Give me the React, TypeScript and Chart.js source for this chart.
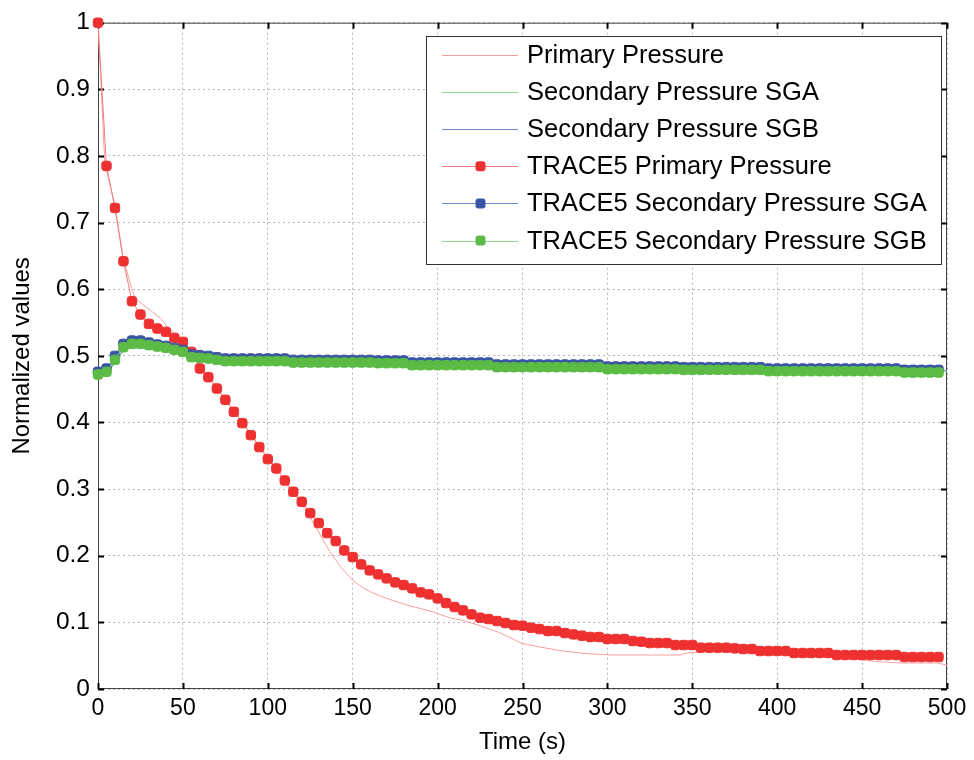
import React, { useEffect, useRef } from "react";
import { Chart, registerables } from "chart.js";

Chart.register(...registerables);

// ---------- data ----------
const xTicks = [0, 50, 100, 150, 200, 250, 300, 350, 400, 450, 500];
const yTickLabels = ["0", "0.1", "0.2", "0.3", "0.4", "0.5", "0.6", "0.7", "0.8", "0.9", "1"];

const legendLabels = [
  "Primary Pressure",
  "Secondary Pressure SGA",
  "Secondary Pressure SGB",
  "TRACE5 Primary Pressure",
  "TRACE5 Secondary Pressure SGA",
  "TRACE5 Secondary Pressure SGB",
];

// reference curves (thin lines)
const primaryTime = [0, 4, 10, 15, 20, 22, 30, 37, 41, 50, 55, 60, 70, 80, 90, 100, 107, 113, 119, 127, 136, 143, 150, 156, 162, 170, 182, 197, 207, 215, 225, 235, 242, 249, 260, 274, 288, 303, 320, 343, 346, 358, 380, 400, 431, 445, 459, 474, 494, 500];
const primaryValues = [1.0, 0.79, 0.725, 0.645, 0.6, 0.586, 0.57, 0.556, 0.543, 0.523, 0.508, 0.485, 0.452, 0.418, 0.383, 0.347, 0.324, 0.3, 0.281, 0.249, 0.208, 0.183, 0.163, 0.152, 0.144, 0.136, 0.126, 0.116, 0.107, 0.103, 0.095, 0.086, 0.078, 0.069, 0.063, 0.057, 0.053, 0.051, 0.051, 0.051, 0.054, 0.056, 0.055, 0.054, 0.048, 0.045, 0.041, 0.039, 0.039, 0.036];

const secondaryTime = [0, 5, 10, 15, 20, 30, 40, 50, 60, 80, 120, 160, 200, 250, 300, 350, 400, 450, 500];
const secondarySGA = [0.47, 0.474, 0.488, 0.508, 0.516, 0.516, 0.511, 0.505, 0.497, 0.493, 0.491, 0.489, 0.487, 0.484, 0.482, 0.48, 0.478, 0.477, 0.476];
const secondarySGB = [0.472, 0.476, 0.49, 0.51, 0.519, 0.518, 0.514, 0.508, 0.5, 0.496, 0.494, 0.492, 0.49, 0.487, 0.485, 0.483, 0.481, 0.48, 0.478];

// TRACE5 results (markers)
const traceTime = [
  0, 5, 10, 15, 20, 25, 30, 35, 40, 45, 50, 55, 60, 65, 70, 75, 80, 85, 90, 95,
  100, 105, 110, 115, 120, 125, 130, 135, 140, 145, 150, 155, 160, 165, 170, 175, 180, 185, 190, 195,
  200, 205, 210, 215, 220, 225, 230, 235, 240, 245, 250, 255, 260, 265, 270, 275, 280, 285, 290, 295,
  300, 305, 310, 315, 320, 325, 330, 335, 340, 345, 350, 355, 360, 365, 370, 375, 380, 385, 390, 395,
  400, 405, 410, 415, 420, 425, 430, 435, 440, 445, 450, 455, 460, 465, 470, 475, 480, 485, 490, 495,
];
const tracePrimary = [
  1.0, 0.785, 0.722, 0.642, 0.582, 0.562, 0.548, 0.541, 0.536, 0.527, 0.521, 0.506, 0.481, 0.468, 0.451, 0.434, 0.416, 0.399, 0.381, 0.363,
  0.345, 0.331, 0.313, 0.296, 0.281, 0.264, 0.249, 0.234, 0.222, 0.208, 0.198, 0.187, 0.178, 0.172, 0.166, 0.16, 0.156, 0.151, 0.145, 0.142,
  0.136, 0.129, 0.123, 0.118, 0.112, 0.107, 0.105, 0.102, 0.099, 0.096, 0.095, 0.092, 0.09, 0.087, 0.087, 0.084, 0.082, 0.08, 0.078, 0.078,
  0.075, 0.075, 0.075, 0.072, 0.071, 0.069, 0.069, 0.069, 0.066, 0.066, 0.066, 0.062, 0.062, 0.062, 0.062, 0.061, 0.06, 0.06, 0.057, 0.057,
  0.057, 0.057, 0.054, 0.054, 0.054, 0.054, 0.054, 0.051, 0.051, 0.051, 0.051, 0.051, 0.051, 0.051, 0.051, 0.048, 0.048, 0.048, 0.048, 0.048,
];
const traceSGA = [
  0.476, 0.481, 0.5, 0.518, 0.523, 0.523, 0.52, 0.517, 0.515, 0.512, 0.509, 0.502, 0.501, 0.5, 0.498, 0.496, 0.496, 0.496, 0.496, 0.496,
  0.496, 0.496, 0.496, 0.494, 0.494, 0.494, 0.494, 0.494, 0.494, 0.494, 0.494, 0.494, 0.494, 0.493, 0.493, 0.493, 0.493, 0.49, 0.49, 0.49,
  0.49, 0.49, 0.49, 0.49, 0.49, 0.49, 0.49, 0.487, 0.487, 0.487, 0.487, 0.487, 0.487, 0.487, 0.487, 0.487, 0.487, 0.487, 0.487, 0.487,
  0.484, 0.484, 0.484, 0.484, 0.484, 0.484, 0.484, 0.484, 0.484, 0.483, 0.483, 0.483, 0.483, 0.483, 0.483, 0.483, 0.483, 0.483, 0.483, 0.481,
  0.481, 0.481, 0.481, 0.481, 0.481, 0.481, 0.481, 0.481, 0.481, 0.481, 0.481, 0.481, 0.481, 0.481, 0.481, 0.479, 0.479, 0.479, 0.479, 0.479,
];
const traceSGB = [
  0.472, 0.476, 0.494, 0.513, 0.518, 0.518, 0.516, 0.514, 0.512, 0.509, 0.506, 0.498, 0.497, 0.496, 0.494, 0.492, 0.492, 0.492, 0.492, 0.492,
  0.492, 0.492, 0.492, 0.49, 0.49, 0.49, 0.49, 0.49, 0.49, 0.49, 0.49, 0.49, 0.49, 0.489, 0.489, 0.489, 0.489, 0.486, 0.486, 0.486,
  0.486, 0.486, 0.486, 0.486, 0.486, 0.486, 0.486, 0.483, 0.483, 0.483, 0.483, 0.483, 0.483, 0.483, 0.483, 0.483, 0.483, 0.483, 0.483, 0.483,
  0.48, 0.48, 0.48, 0.48, 0.48, 0.48, 0.48, 0.48, 0.48, 0.479, 0.479, 0.479, 0.479, 0.479, 0.479, 0.479, 0.479, 0.479, 0.479, 0.477,
  0.477, 0.477, 0.477, 0.477, 0.477, 0.477, 0.477, 0.477, 0.477, 0.477, 0.477, 0.477, 0.477, 0.477, 0.477, 0.475, 0.475, 0.475, 0.475, 0.475,
];

// ---------- styles ----------
const FONT = '"Liberation Sans", Arial, Helvetica, sans-serif';
const lineColors = ["#f5a0a0", "#8fd88f", "#7387cc", "#f27b7b", "#6f86c9", "#8ed68e"];
const markerColors = [null, null, null, "#ee3030", "#3a55a5", "#5cbb45"];

const toXY = (xs: number[], ys: number[]) => xs.map((x, i) => ({ x, y: ys[i] }));

const boxPlugin = {
  id: "matlabBox",
  beforeDatasetsDraw(chart: any) {
    const { ctx, chartArea: a, scales } = chart;
    ctx.save();
    // box
    ctx.strokeStyle = "#444";
    ctx.lineWidth = 1;
    ctx.strokeRect(a.left + 0.5, a.top + 0.5, a.right - a.left - 1, a.bottom - a.top - 1);
    // inward ticks
    ctx.strokeStyle = "#000";
    ctx.lineWidth = 2;
    const tl = 6;
    scales.y.ticks.forEach((t: any) => {
      const y = Math.round(scales.y.getPixelForValue(t.value)) + 0.5;
      ctx.beginPath();
      ctx.moveTo(a.left, y);
      ctx.lineTo(a.left + tl, y);
      ctx.moveTo(a.right, y);
      ctx.lineTo(a.right - tl, y);
      ctx.stroke();
    });
    scales.x.ticks.forEach((t: any) => {
      const x = Math.round(scales.x.getPixelForValue(t.value)) + 0.5;
      ctx.beginPath();
      ctx.moveTo(x, a.top);
      ctx.lineTo(x, a.top + tl);
      ctx.moveTo(x, a.bottom);
      ctx.lineTo(x, a.bottom - tl);
      ctx.stroke();
    });
    ctx.restore();
  },
  afterDraw(chart: any) {
    const { ctx } = chart;
    ctx.save();
    // legend
    const lx = 426, ly = 36, lw = 515, lh = 228;
    ctx.fillStyle = "#fff";
    ctx.fillRect(lx, ly, lw, lh);
    ctx.strokeStyle = "#333";
    ctx.lineWidth = 1;
    ctx.strokeRect(lx + 0.5, ly + 0.5, lw, lh);
    const rowY0 = 55, rowH = 37.1;
    ctx.font = `25.5px ${FONT}`;
    ctx.textBaseline = "middle";
    ctx.textAlign = "left";
    legendLabels.forEach((label, i) => {
      const y = rowY0 + i * rowH;
      ctx.strokeStyle = lineColors[i];
      ctx.lineWidth = 1;
      ctx.beginPath();
      ctx.moveTo(442, Math.round(y) + 0.5);
      ctx.lineTo(518, Math.round(y) + 0.5);
      ctx.stroke();
      const mc = markerColors[i];
      if (mc) {
        ctx.fillStyle = mc;
        ctx.beginPath();
        (ctx as any).roundRect(475.5, y - 5, 10, 10, 3);
        ctx.fill();
      }
      ctx.fillStyle = "#000";
      ctx.fillText(label, 527, y + 1);
    });
    ctx.restore();
  },
};

export default function App() {
  const ref = useRef<HTMLCanvasElement | null>(null);

  useEffect(() => {
    if (!ref.current) return;
    const traceDs = (i: number, ys: number[], order: number) => ({
      label: legendLabels[i],
      data: toXY(traceTime, ys),
      borderColor: lineColors[i],
      borderWidth: 1,
      pointStyle: "rectRounded",
      pointRadius: 5.5,
      pointBackgroundColor: markerColors[i],
      pointBorderColor: markerColors[i],
      pointBorderWidth: 1,
      tension: 0,
      clip: false,
      order,
    });
    const chart = new Chart(ref.current, {
      type: "line",
      data: {
        datasets: [
          {
            label: legendLabels[0],
            data: toXY(primaryTime, primaryValues),
            borderColor: lineColors[0],
            borderWidth: 1,
            pointRadius: 0,
            tension: 0,
            order: 6,
          },
          {
            label: legendLabels[1],
            data: toXY(secondaryTime, secondarySGA),
            borderColor: lineColors[1],
            borderWidth: 1,
            pointRadius: 0,
            tension: 0,
            order: 5,
          },
          {
            label: legendLabels[2],
            data: toXY(secondaryTime, secondarySGB),
            borderColor: lineColors[2],
            borderWidth: 1,
            pointRadius: 0,
            tension: 0,
            order: 4,
          },
          traceDs(3, tracePrimary, 3),
          traceDs(4, traceSGA, 2),
          traceDs(5, traceSGB, 1),
        ] as any,
      },
      options: {
        animation: false,
        responsive: false,
        devicePixelRatio: 1,
        layout: { padding: { left: 0, top: 22, right: 27, bottom: 0 } },
        plugins: { legend: { display: false }, tooltip: { enabled: false } },
        scales: {
          x: {
            type: "linear",
            min: 0,
            max: 500,
            afterBuildTicks: (s: any) => {
              s.ticks = xTicks.map((v) => ({ value: v }));
            },
            afterFit: (s: any) => {
              s.height = 71;
            },
            ticks: {
              font: { family: FONT, size: 23 },
              color: "#000",
              padding: 6,
              maxRotation: 0,
            },
            grid: { color: "#b8b8b8", lineWidth: 1, drawTicks: false },
            border: { display: false, dash: [2, 3] },
            title: {
              display: true,
              text: "Time (s)",
              font: { family: FONT, size: 24 },
              color: "#000",
              padding: { top: 0, bottom: 3 },
            },
          },
          y: {
            type: "linear",
            min: 0,
            max: 1,
            ticks: {
              stepSize: 0.1,
              font: { family: FONT, size: 24.5 },
              color: "#000",
              padding: 8,
              callback: (_v: any, idx: number) => yTickLabels[idx],
            },
            afterFit: (s: any) => {
              s.width = 98;
            },
            grid: { color: "#b8b8b8", lineWidth: 1, drawTicks: false },
            border: { display: false, dash: [2, 3] },
            title: {
              display: true,
              text: "Normalized values",
              font: { family: FONT, size: 24 },
              color: "#000",
              padding: { top: 8, bottom: 0 },
            },
          },
        },
      } as any,
      plugins: [boxPlugin],
    });
    return () => chart.destroy();
  }, []);

  return (
    <div style={{ position: "fixed", left: 0, top: 0, width: 974, height: 760, background: "#fff" }}>
      <canvas ref={ref} width={974} height={760} style={{ width: 974, height: 760, display: "block" }} />
    </div>
  );
}
